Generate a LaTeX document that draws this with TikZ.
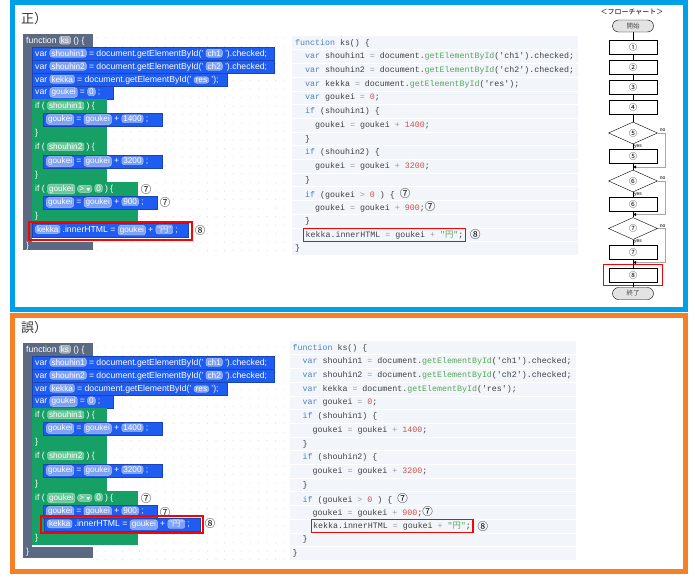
\documentclass[tikz,border=0pt]{standalone}
\usepackage{fontspec}
\setmainfont{Liberation Sans}
\setmonofont{Liberation Mono}
\newfontfamily\jp{Noto Sans CJK JP}
\usetikzlibrary{shapes.geometric,arrows.meta}
\newcommand{\blockfont}{\fontsize{8.7}{9}\selectfont}
\newcommand{\codefont}{\ttfamily\fontsize{8.3}{10}\selectfont}
\newcommand{\flowfont}{\jp\fontsize{8}{8}\selectfont}
\newcommand{\fld}[2]{\tikz[baseline=(f.base)]\node[fill=#1,draw=white!45!#1,rounded corners=2.5pt,inner xsep=1.6pt,inner ysep=1pt,text=white,font=\fontsize{8.2}{8.5}\selectfont](f){#2};}
\newcommand{\ckw}[1]{\textcolor{kwcol}{#1}}
\newcommand{\cfn}[1]{\textcolor{fncol}{#1}}
\newcommand{\cnum}[1]{\textcolor{numcol}{#1}}
\newcommand{\cop}[1]{\textcolor{opcol}{#1}}

\begin{document}
\begin{tikzpicture}[x=1pt,y=-1pt]
% Colors
\definecolor{framecol}{HTML}{00A0E9}
\definecolor{wrongcol}{HTML}{F58025}
\definecolor{slatecol}{HTML}{5B6A82}
\definecolor{blkcol}{HTML}{1F5CF2}
\definecolor{ifcol}{HTML}{17A065}
\definecolor{fblue}{HTML}{7FA2F5}
\definecolor{fgreen}{HTML}{6CC79B}
\definecolor{fslate}{HTML}{A3ACBB}
\definecolor{dotcol}{HTML}{D4D4D4}
\definecolor{codebg}{HTML}{F2F5F9}
\definecolor{kwcol}{HTML}{4F81BD}
\definecolor{fncol}{HTML}{58A55C}
\definecolor{numcol}{HTML}{C8524E}
\definecolor{opcol}{HTML}{9A9A9A}
\definecolor{codetext}{HTML}{404040}
% Styles
\tikzstyle{slate}=[fill=slatecol]
\tikzstyle{blk}=[fill=blkcol,draw=blkcol!75!black,line width=.3pt]
\tikzstyle{ifblk}=[fill=ifcol]
\tikzstyle{btext}=[anchor=west,text=white,inner sep=0,font=\blockfont]
\tikzstyle{code}=[anchor=west,text=codetext,inner sep=0,font=\codefont]
\tikzstyle{redbox}=[draw=red,line width=1.3pt]
\tikzstyle{marknum}=[inner sep=0,font=\jp\fontsize{10.5}{11}\selectfont]
\tikzstyle{step box}=[draw,minimum width=48,minimum height=14,inner sep=0,font=\flowfont]
\tikzstyle{terminal}=[draw,fill=gray!22,rounded corners=6,minimum width=41,minimum height=12,inner sep=0,font=\jp\fontsize{6.5}{7}\selectfont,text=black!70]
\tikzstyle{decision}=[draw,diamond,aspect=2.2,minimum width=49,minimum height=22,inner sep=0,font=\flowfont]
\tikzstyle{no line}=[draw=gray!70,-{Latex[black,length=3pt,width=3pt]}]
\tikzstyle{yn}=[inner sep=0,font=\fontsize{5}{5}\selectfont]
% The graphic
\useasboundingbox[fill=white] (0,0) rectangle (695,581);
\draw[framecol,line width=5] (12.5,2) rectangle (685.5,309);
\draw[wrongcol,line width=5] (12.5,315.8) rectangle (685.5,571.5);
\node[font=\jp\fontsize{13}{13}\selectfont,text=black!80] (titleA) at (34,18.5) {正）};
\node[font=\jp\fontsize{13}{13}\selectfont,text=black!80] (titleB) at (34,328) {誤）};

% Blockly workspace
\foreach \dy in {0,309}
  \foreach \i in {0,...,22}
    \foreach \j in {0,...,25}
      \fill[dotcol] (97+8.5*\i,38+8.5*\j+\dy) circle (.5);

\fill[slate] (23,34) rectangle (32,250);
\fill[slate] (23,343) rectangle (32,558);
\fill[slate] (23,242) rectangle (93,250);
\fill[slate] (23,547) rectangle (93,558);
\node[btext] (endA) at (26,246) {\}};
\node[btext] (endB) at (26,552.5) {\}};
\fill[ifblk] (32,182) rectangle (138,223);
\fill[ifblk] (32,491) rectangle (138,545);
\node[btext] (if3endA) at (35,216) {\}};
\node[btext] (if3endB) at (35,538) {\}};

\foreach \dy/\p in {0/A,309/B}{
\begin{scope}[shift={(0,\dy)}]
\fill[slate] (23,34) rectangle (93,47);
\node[btext] (fn\p) at (26,40.5) {function \fld{fslate}{ks} () \{};
\fill[blk] (32,47) rectangle (274,60);
\node[btext] (vs1\p) at (35,53.5) {var \fld{fblue}{shouhin1} = document.getElementById(' \fld{fblue}{ch1} ').checked;};
\fill[blk] (32,60) rectangle (274,73);
\node[btext] (vs2\p) at (35,66.5) {var \fld{fblue}{shouhin2} = document.getElementById(' \fld{fblue}{ch2} ').checked;};
\fill[blk] (32,73) rectangle (227,86);
\node[btext] (vkk\p) at (35,79.5) {var \fld{fblue}{kekka} = document.getElementById(' \fld{fblue}{res} ');};
\fill[blk] (32,86) rectangle (113,99);
\node[btext] (vgk\p) at (35,92.5) {var \fld{fblue}{goukei} = \fld{fblue}{0} ;};
\fill[ifblk] (32,99) rectangle (107,140);
\node[btext] (if1\p) at (35,106) {if ( \fld{fgreen}{shouhin1} ) \{};
\fill[blk] (43,113) rectangle (162,126);
\node[btext] (add1\p) at (46,119.5) {\fld{fblue}{goukei} = \fld{fblue}{goukei} + \fld{fblue}{1400} ;};
\node[btext] (end1\p) at (35,133) {\}};
\fill[ifblk] (32,140) rectangle (107,182);
\node[btext] (if2\p) at (35,147) {if ( \fld{fgreen}{shouhin2} ) \{};
\fill[blk] (43,155) rectangle (162,168);
\node[btext] (add2\p) at (46,161.5) {\fld{fblue}{goukei} = \fld{fblue}{goukei} + \fld{fblue}{3200} ;};
\node[btext] (end2\p) at (35,175) {\}};
\node[btext] (if3\p) at (35,189) {if ( \fld{fgreen}{goukei} \fld{fgreen}{> {\jp\fontsize{4}{4}\selectfont ▼}} \fld{fgreen}{0} ) \{};
\node[marknum] (m7h\p) at (146,190) {⑦};
\fill[blk] (43,196) rectangle (157,209);
\node[btext] (add3\p) at (46,202.5) {\fld{fblue}{goukei} = \fld{fblue}{goukei} + \fld{fblue}{900} ;};
\node[marknum] (m7b\p) at (165,203) {⑦};
\end{scope}}

\fill[blk] (32,223) rectangle (188,237);
\node[btext] (kkA) at (35,230) {\fld{fblue}{kekka} .innerHTML = \fld{fblue}{goukei} + \fld{fblue}{"{\jp 円}"} ;};
\draw[redbox] (29,222) rectangle (192,240);
\node[marknum] (m8A) at (200,231) {⑧};
\fill[blk] (44,518) rectangle (200,531);
\node[btext] (kkB) at (47,524.5) {\fld{fblue}{kekka} .innerHTML = \fld{fblue}{goukei} + \fld{fblue}{"{\jp 円}"} ;};
\draw[redbox] (41,516) rectangle (203,533);
\node[marknum] (m8B) at (210,523) {⑧};

% Source code
\foreach \dx/\dy/\p in {0/0/A,-2.5/305/B}{
\fill[codebg] (292+\dx,36+\dy) rectangle (578+\dx,255+\dy);
\foreach \r in {1,...,15}
  \draw[white,line width=1] (292+\dx,36.2+13.7*\r+\dy) -- (578+\dx,36.2+13.7*\r+\dy);
\foreach \i/\ind/\txt in {
  0/0/{\ckw{function} ks() \{},
  1/1/{\ckw{var} shouhin1 \cop{=} document.\cfn{getElementById}('ch1').checked;},
  2/1/{\ckw{var} shouhin2 \cop{=} document.\cfn{getElementById}('ch2').checked;},
  3/1/{\ckw{var} kekka \cop{=} document.\cfn{getElementById}('res');},
  4/1/{\ckw{var} goukei \cop{=} \cnum{0};},
  5/1/{\ckw{if} (shouhin1) \{},
  6/2/{goukei \cop{=} goukei \cop{+} \cnum{1400};},
  7/1/{\}},
  8/1/{\ckw{if} (shouhin2) \{},
  9/2/{goukei \cop{=} goukei \cop{+} \cnum{3200};},
  10/1/{\}},
  11/1/{\ckw{if} (goukei \cop{>} \cnum{0} ) \{ \textcolor{black}{\jp\fontsize{10.5}{10}\selectfont ⑦}},
  12/2/{goukei \cop{=} goukei \cop{+} \cnum{900};\textcolor{black}{\jp\fontsize{10.5}{10}\selectfont ⑦}}}
  \node[code] (c\i\p) at (295+\dx+10*\ind,43+13.7*\i+\dy) {\txt};
}
\node[code] (c13A) at (305,221.1) {\}};
\node[code,redbox,inner xsep=2pt,inner ysep=2.5pt] (c14A) at (303,234.8) {kekka.innerHTML \cop{=} goukei \cop{+} \cfn{"{\jp 円}"};};
\node[marknum,anchor=west] (m8cA) at ([xshift=4pt]c14A.east) {⑧};
\node[code] (c15A) at (295,248.5) {\}};
\node[code,redbox,inner xsep=2pt,inner ysep=2.5pt] (c13B) at (310.5,526.1) {kekka.innerHTML \cop{=} goukei \cop{+} \cfn{"{\jp 円}"};};
\node[marknum,anchor=west] (m8cB) at ([xshift=4pt]c13B.east) {⑧};
\node[code] (c14B) at (302.5,539.8) {\}};
\node[code] (c15B) at (292.5,553.5) {\}};

% Flow chart
\node[font=\jp\fontsize{7}{7}\selectfont] (fc) at (632,12) {＜フローチャート＞};
\node[terminal] (st) at (633,26) {開始};
\node[step box] (p1) at (633,47) {①};
\node[step box] (p2) at (633,67) {②};
\node[step box] (p3) at (633,87) {③};
\node[step box] (p4) at (633,107.5) {④};
\node[decision] (d5) at (633,133) {⑤};
\node[step box] (b5) at (633,156.5) {⑤};
\node[decision] (d6) at (633,181) {⑥};
\node[step box] (b6) at (633,204.5) {⑥};
\node[decision] (d7) at (633,228.5) {⑦};
\node[step box] (b7) at (633,252.5) {⑦};
\node[step box] (b8) at (633,275) {⑧};
\node[terminal] (en) at (633,293.5) {終了};
\draw[red,line width=.8pt] (603.5,264.5) rectangle (662,285);
\coordinate (j5) at (633,167);
\coordinate (j6) at (633,214.5);
\coordinate (j7) at (633,262.5);
\foreach \a/\b in {st/p1,p1/p2,p2/p3,p3/p4,p4/d5,d5/b5,b5/d6,d6/b6,b6/d7,d7/b7,b7/b8,b8/en}
  \draw (\a) -- (\b);
\foreach \d/\j in {d5/j5,d6/j6,d7/j7}{
  \draw[no line] (\d.east) -- ++(7,0) |- (\j);
  \node[yn,anchor=south west] (no\d) at ([xshift=2pt,yshift=1pt]\d.east) {no};
  \node[yn,anchor=north west] (yes\d) at ([xshift=1pt]\d.south) {yes};
}
\end{tikzpicture}
\end{document}
